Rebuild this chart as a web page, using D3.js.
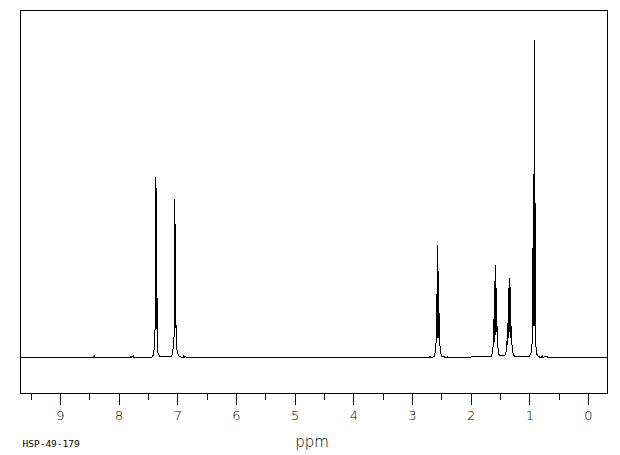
<!DOCTYPE html>
<html>
<head>
<meta charset="utf-8">
<script src="https://cdn.jsdelivr.net/npm/d3@7"></script>
<style>
  html, body { margin: 0; padding: 0; background: #fff; }
  svg { display: block; }
  text { font-family: "DejaVu Sans", "Liberation Sans", sans-serif; fill: #000; }
</style>
</head>
<body>
<svg id="chart" width="620" height="455"></svg>
<script>
// ---- data ----
const tickValues = [9, 8, 7, 6, 5, 4, 3, 2, 1, 0];
const minorTickValues = [9.5, 8.5, 7.5, 6.5, 5.5, 4.5, 3.5, 2.5, 1.5, 0.5];
const xLabel = "ppm";
const sampleId = "HSP-49-179";

// spectrum trace: chemical shift (ppm) and relative intensity
const spectrumPpm = [
  9.68, 8.43, 8.42, 8.41, 7.80, 7.79, 7.78, 7.75, 7.74,
  7.45, 7.42, 7.40, 7.39, 7.385, 7.375, 7.368, 7.362, 7.352, 7.345, 7.34, 7.33, 7.30,
  7.10, 7.08, 7.065, 7.055, 7.045, 7.04, 7.03, 7.022, 7.015, 7.00, 6.97,
  6.90, 6.89, 6.88, 6.86, 6.85,
  2.70, 2.69, 2.68,
  2.62, 2.60, 2.585, 2.575, 2.57, 2.562, 2.556, 2.548, 2.54, 2.535, 2.525, 2.51, 2.49,
  2.40, 2.39, 2.38,
  1.65, 1.63, 1.615, 1.605, 1.598, 1.588, 1.582, 1.572, 1.566, 1.556, 1.55, 1.542, 1.535, 1.52, 1.49,
  1.42, 1.40, 1.385, 1.375, 1.368, 1.358, 1.352, 1.345, 1.338, 1.33, 1.322, 1.315, 1.308, 1.30, 1.29, 1.27, 1.25,
  1.00, 0.97, 0.955, 0.945, 0.93, 0.924, 0.915, 0.908, 0.90, 0.893, 0.885, 0.87, 0.85,
  0.80, 0.78, 0.77, 0.70, 0.69, -0.32
];
const spectrumInt = [
  0, 0, 0.6, 0, 0, 0.5, 0, 0.4, 0,
  0, 0.3, 1.5, 5, 8.5, 9, 57, 9, 53.6, 8.5, 5, 1.5, 0.3,
  0.3, 1.5, 4, 7, 50, 7.5, 42, 7, 4, 1.5, 0.3,
  0, 0.5, 0, 0.3, 0,
  0, 0.4, 0,
  0.3, 2, 6, 20, 6, 35.6, 8, 27.4, 6, 14, 4, 1.5, 0.3,
  0, 0.3, 0,
  0.3, 1.5, 4, 12, 5, 24, 7, 29.3, 8, 22, 6, 10, 3, 1, 0.5,
  0.5, 1.5, 3, 8, 4, 18, 6, 25, 8, 24, 6, 14, 4, 6, 2, 0.8, 0.3,
  0.3, 1.5, 4, 8, 58, 10, 100, 10, 48.6, 6, 3, 1, 0.3,
  0, 0.6, 0, 0.4, 0, 0
];

// ---- layout ----
const frame = { left: 20, right: 607, top: 10, bottom: 393 };
const svg = d3.select("#chart");

const x = d3.scaleLinear().domain([9.682, -0.324]).range([frame.left, frame.right]);
const y = d3.scaleLinear().domain([0, 100]).range([357, 40]);

// frame
svg.append("rect")
  .attr("x", frame.left + 0.5).attr("y", frame.top + 0.5)
  .attr("width", frame.right - frame.left).attr("height", frame.bottom - frame.top)
  .attr("fill", "none").attr("stroke", "#000").attr("stroke-width", 1)
  .attr("shape-rendering", "crispEdges");

// spectrum
const pts = spectrumPpm.map((p, i) => [p, spectrumInt[i]]);
svg.append("path")
  .datum(pts)
  .attr("d", d3.line().x(d => x(d[0])).y(d => y(d[1]) + 0.5))
  .attr("fill", "none").attr("stroke", "#000").attr("stroke-width", 1)
  .attr("shape-rendering", "crispEdges");

// axis
const axisG = svg.append("g").attr("transform", `translate(0,${frame.bottom + 0.5})`);
axisG.call(d3.axisBottom(x).tickValues(tickValues).tickSize(11).tickPadding(6).tickFormat(d3.format("d")))
  .call(g => g.select(".domain").remove());
axisG.selectAll(".tick line").attr("stroke", "#000").attr("shape-rendering", "crispEdges");
axisG.selectAll(".tick text")
  .style("font-size", "13px")
  .style("font-weight", "200")
  .style("font-family", "'DejaVu Sans', sans-serif")
  .attr("fill", "#000");
axisG.append("g").call(d3.axisBottom(x).tickValues(minorTickValues).tickSize(6).tickFormat(""))
  .call(g => g.select(".domain").remove())
  .selectAll(".tick line").attr("stroke", "#000").attr("shape-rendering", "crispEdges");

// labels
svg.append("text")
  .attr("x", 312).attr("y", 446.5)
  .attr("text-anchor", "middle")
  .style("font-size", "15px")
  .style("font-weight", "200")
  .text(xLabel);

svg.append("text")
  .attr("x", 22.5).attr("y", 447)
  .style("font-size", "9.5px")
  .style("font-family", "'DejaVu Sans Mono', monospace")
  .text(sampleId);
</script>
</body>
</html>
